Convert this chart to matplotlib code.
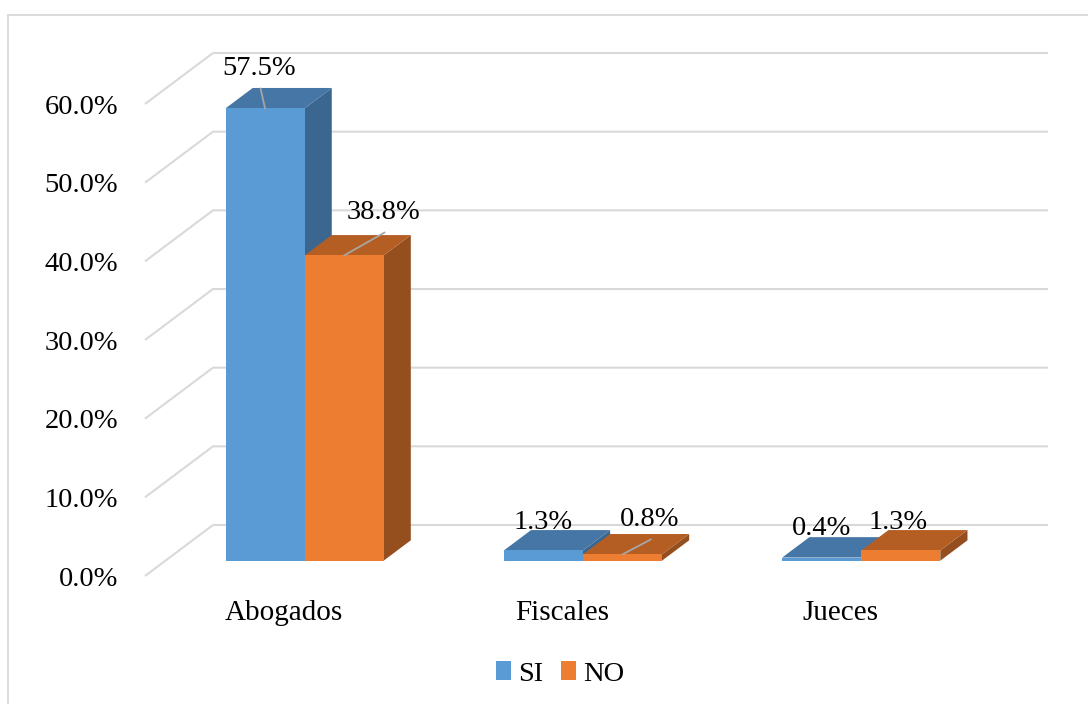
import matplotlib
matplotlib.use("Agg")
import matplotlib.pyplot as plt
from matplotlib.patches import Polygon
from matplotlib.lines import Line2D

# Data
categories = ["Abogados", "Fiscales", "Jueces"]
series_names = ["SI", "NO"]
si_values = [57.5, 1.3, 0.4]
no_values = [38.8, 0.8, 1.3]
y_ticks = [0, 10, 20, 30, 40, 50, 60]
y_tick_labels = ["0.0%", "10.0%", "20.0%", "30.0%", "40.0%", "50.0%", "60.0%"]

# Styling
FONT = "Liberation Serif"
FS = 20.5
FRONT = ["#5B9BD5", "#ED7D31"]
TOP = ["#4676A5", "#B45E23"]
SIDE = ["#3B6690", "#954F1E"]
GRID = "#D9D9D9"

W, H, DPI = 1088, 704, 100
fig = plt.figure(figsize=(W / DPI, H / DPI), dpi=DPI)

# front plane of the 3-D box, in pixels
ax_left, ax_right, ax_bottom, ax_top = 145, 980, 576, 104
ax = fig.add_axes([ax_left / W, 1 - ax_bottom / H,
                   (ax_right - ax_left) / W, (ax_bottom - ax_top) / H])
ax.set_xlim(0, len(categories))
ax.set_ylim(0, 60)
for s in ax.spines.values():
    s.set_visible(False)
ax.set_facecolor("none")

# depth of the box (pixels) expressed in data units
depth_px = (68, 51)
DX = depth_px[0] / ((ax_right - ax_left) / len(categories))
DY = depth_px[1] / ((ax_bottom - ax_top) / 60)

# back wall / side wall gridlines
for v in y_ticks:
    ax.plot([0, DX, len(categories) + DX], [v, v + DY, v + DY],
            color=GRID, lw=1.5, clip_on=False, zorder=1, solid_capstyle="butt")

bar_w = 0.284
d0, d1 = 0.3, 0.7
z = 2
label_offsets = [
    [(-6, 40), (39, 43)],
    [(0, 28), (27, 35)],
    [(0, 29), (-3, 28)],
]
leaders = [[True, True], [False, True], [False, False]]

for i, cat in enumerate(categories):
    center = i + 0.5
    for s, vals in enumerate([si_values, no_values]):
        v = vals[i]
        x0 = center - bar_w + s * bar_w
        x1 = x0 + bar_w
        fx0, fx1 = x0 + d0 * DX, x1 + d0 * DX
        bx0, bx1 = x0 + d1 * DX, x1 + d1 * DX
        fb, bb = d0 * DY, d1 * DY
        side = Polygon([(fx1, fb), (bx1, bb), (bx1, bb + v), (fx1, fb + v)],
                       closed=True, facecolor=SIDE[s], edgecolor="none",
                       clip_on=False, zorder=z)
        top = Polygon([(fx0, fb + v), (fx1, fb + v), (bx1, bb + v), (bx0, bb + v)],
                      closed=True, facecolor=TOP[s], edgecolor="none",
                      clip_on=False, zorder=z)
        ax.add_patch(side)
        ax.add_patch(top)
        ax.bar(fx0, v, width=bar_w, bottom=fb, align="edge", color=FRONT[s],
               edgecolor="none", zorder=z, clip_on=False)
        z += 1
        ox, oy = label_offsets[i][s]
        ax.annotate(f"{v:.1f}%", xy=((fx0 + fx1) / 2, fb + v),
                    xytext=(ox, oy), textcoords="offset pixels",
                    ha="center", va="center", fontsize=FS, family=FONT,
                    color="#000000", zorder=20, annotation_clip=False)
        if leaders[i][s]:
            ax.annotate("", xy=((fx0 + fx1) / 2, fb + v),
                        xytext=(ox + 1.5, oy - 20), textcoords="offset pixels",
                        arrowprops=dict(arrowstyle="-", color="#A6A6A6", lw=1.3,
                                        shrinkA=0, shrinkB=0),
                        zorder=19, annotation_clip=False)

ax.set_yticks(y_ticks)
ax.set_yticklabels(y_tick_labels, fontsize=FS, family=FONT)
ax.set_xticks([i + 0.5 for i in range(len(categories))])
ax.set_xticklabels(categories, fontsize=21, family=FONT)
ax.tick_params(axis="y", length=0, pad=19.5)
ax.tick_params(axis="x", length=0, pad=17.5)

# legend
handles = [plt.Rectangle((0, 0), 1, 1, facecolor=c, edgecolor="none") for c in FRONT]
fig.legend(handles, series_names, loc="center",
           bbox_to_anchor=(560 / W, 1 - 674 / H), ncol=2, frameon=False,
           prop={"family": FONT, "size": FS}, handlelength=0.55,
           handleheight=0.6, handletextpad=0.25, columnspacing=0.6,
           borderpad=0)

# chart area border
fig.add_artist(Line2D([8 / W, 1], [1 - 15 / H, 1 - 15 / H], color=GRID, lw=1.3,
                      transform=fig.transFigure))
fig.add_artist(Line2D([8 / W, 8 / W], [1 - 15 / H, 0], color=GRID, lw=1.3,
                      transform=fig.transFigure))

fig.savefig("out.png", dpi=DPI)
